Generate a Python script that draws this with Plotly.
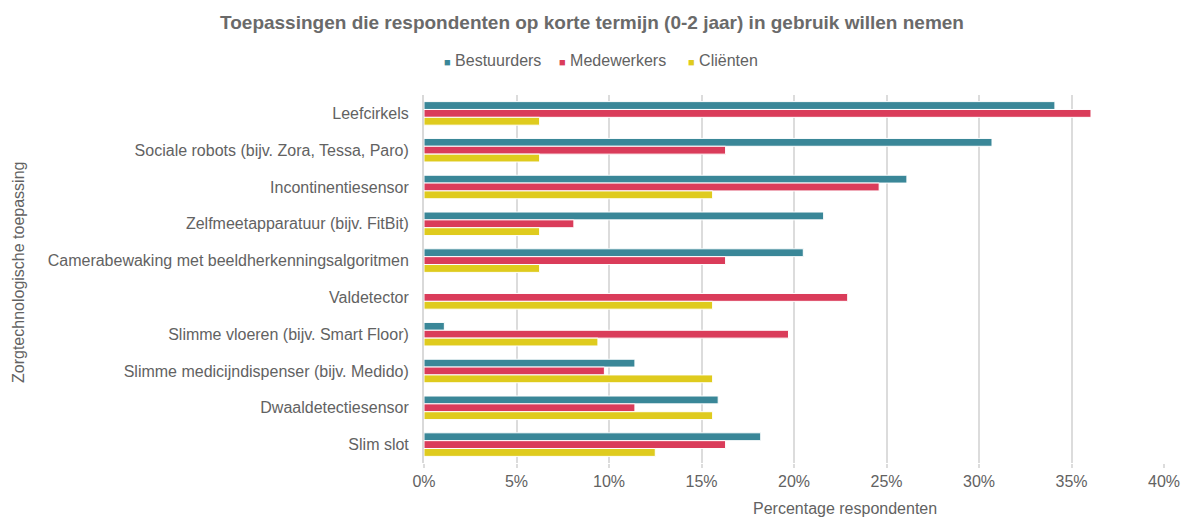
import plotly.graph_objects as go

categories = [
    "Leefcirkels",
    "Sociale robots (bijv. Zora, Tessa, Paro)",
    "Incontinentiesensor",
    "Zelfmeetapparatuur (bijv. FitBit)",
    "Camerabewaking met beeldherkenningsalgoritmen",
    "Valdetector",
    "Slimme vloeren (bijv. Smart Floor)",
    "Slimme medicijndispenser (bijv. Medido)",
    "Dwaaldetectiesensor",
    "Slim slot",
]
bestuurders = [34.1, 30.7, 26.1, 21.6, 20.5, 0.0, 1.1, 11.4, 15.9, 18.2]
medewerkers = [36.05, 16.3, 24.6, 8.1, 16.3, 22.9, 19.7, 9.75, 11.4, 16.3]
clienten = [6.25, 6.25, 15.6, 6.25, 6.25, 15.6, 9.4, 15.6, 15.6, 12.5]
x_ticks = [0, 5, 10, 15, 20, 25, 30, 35, 40]
x_ticklabels = [f"{v}%" for v in x_ticks]

series = [
    ("Bestuurders", bestuurders, "#3A8798"),
    ("Medewerkers", medewerkers, "#DA3C5A"),
    ("Cliënten", clienten, "#DFCB1E"),
]

W, H = 1182, 517
L, R, T, B = 424, 17, 95, 54
TXT = "#626262"
FONT = "Liberation Sans, Arial, sans-serif"
FS = 16

fig = go.Figure()
for name, vals, col in series:
    fig.add_trace(go.Bar(
        y=categories, x=vals, name=name, orientation="h",
        marker=dict(color=col, line=dict(color="white", width=1)),
        showlegend=False,
    ))

fig.update_layout(
    width=W, height=H,
    margin=dict(l=L, r=R, t=T, b=B, autoexpand=False),
    paper_bgcolor="white", plot_bgcolor="white",
    font=dict(family=FONT, color=TXT, size=FS),
    barmode="group", bargap=0.36, bargroupgap=0.0,
    title=dict(
        text="<b>Toepassingen die respondenten op korte termijn (0-2 jaar) in gebruik willen nemen</b>",
        x=592 / W, xanchor="center", y=1 - 22 / H, yanchor="middle",
        font=dict(size=19, color="#6a6a6a", family=FONT),
    ),
)
fig.update_xaxes(
    range=[0, 40.05], tickvals=x_ticks, ticktext=x_ticklabels,
    showgrid=True, gridcolor="#dcdcdc", gridwidth=2,
    zeroline=False, showline=False, automargin=False,
    ticks="outside", ticklen=4, tickcolor="#dcdcdc", tickwidth=2,
    tickfont=dict(size=FS, color=TXT),
)
fig.update_yaxes(
    autorange="reversed", showgrid=False, zeroline=False, automargin=False,
    showline=True, linecolor="#d9d9d9", linewidth=2,
    ticks="", ticklabelstandoff=10,
    tickfont=dict(size=FS, color=TXT),
)

pw, ph = W - L - R, H - T - B
fig.add_annotation(
    text="Percentage respondenten", xref="paper", yref="paper",
    x=(845 - L) / pw, y=-(508 - (H - B)) / ph,
    xanchor="center", yanchor="middle", showarrow=False,
    font=dict(size=FS, color=TXT),
)
fig.add_annotation(
    text="Zorgtechnologische toepassing", xref="paper", yref="paper",
    x=-(L - 18) / pw, y=1 - (273 - T) / ph,
    xanchor="center", yanchor="middle", showarrow=False, textangle=-90,
    font=dict(size=FS, color=TXT),
)

# legend as coloured square + text
legend_x = [442, 557, 686]
for (name, _, col), lx in zip(series, legend_x):
    fig.add_annotation(
        text=f"<span style='color:{col};font-size:11px'>■</span> {name}",
        xref="paper", yref="paper",
        x=(lx - L) / pw, y=1 + (T - 61) / ph,
        xanchor="left", yanchor="middle", showarrow=False,
        font=dict(size=FS, color=TXT),
    )

fig.write_html(
    "out.html",
    config={"displayModeBar": False},
    post_script="document.body.style.margin='0';document.body.style.overflow='hidden';",
)
